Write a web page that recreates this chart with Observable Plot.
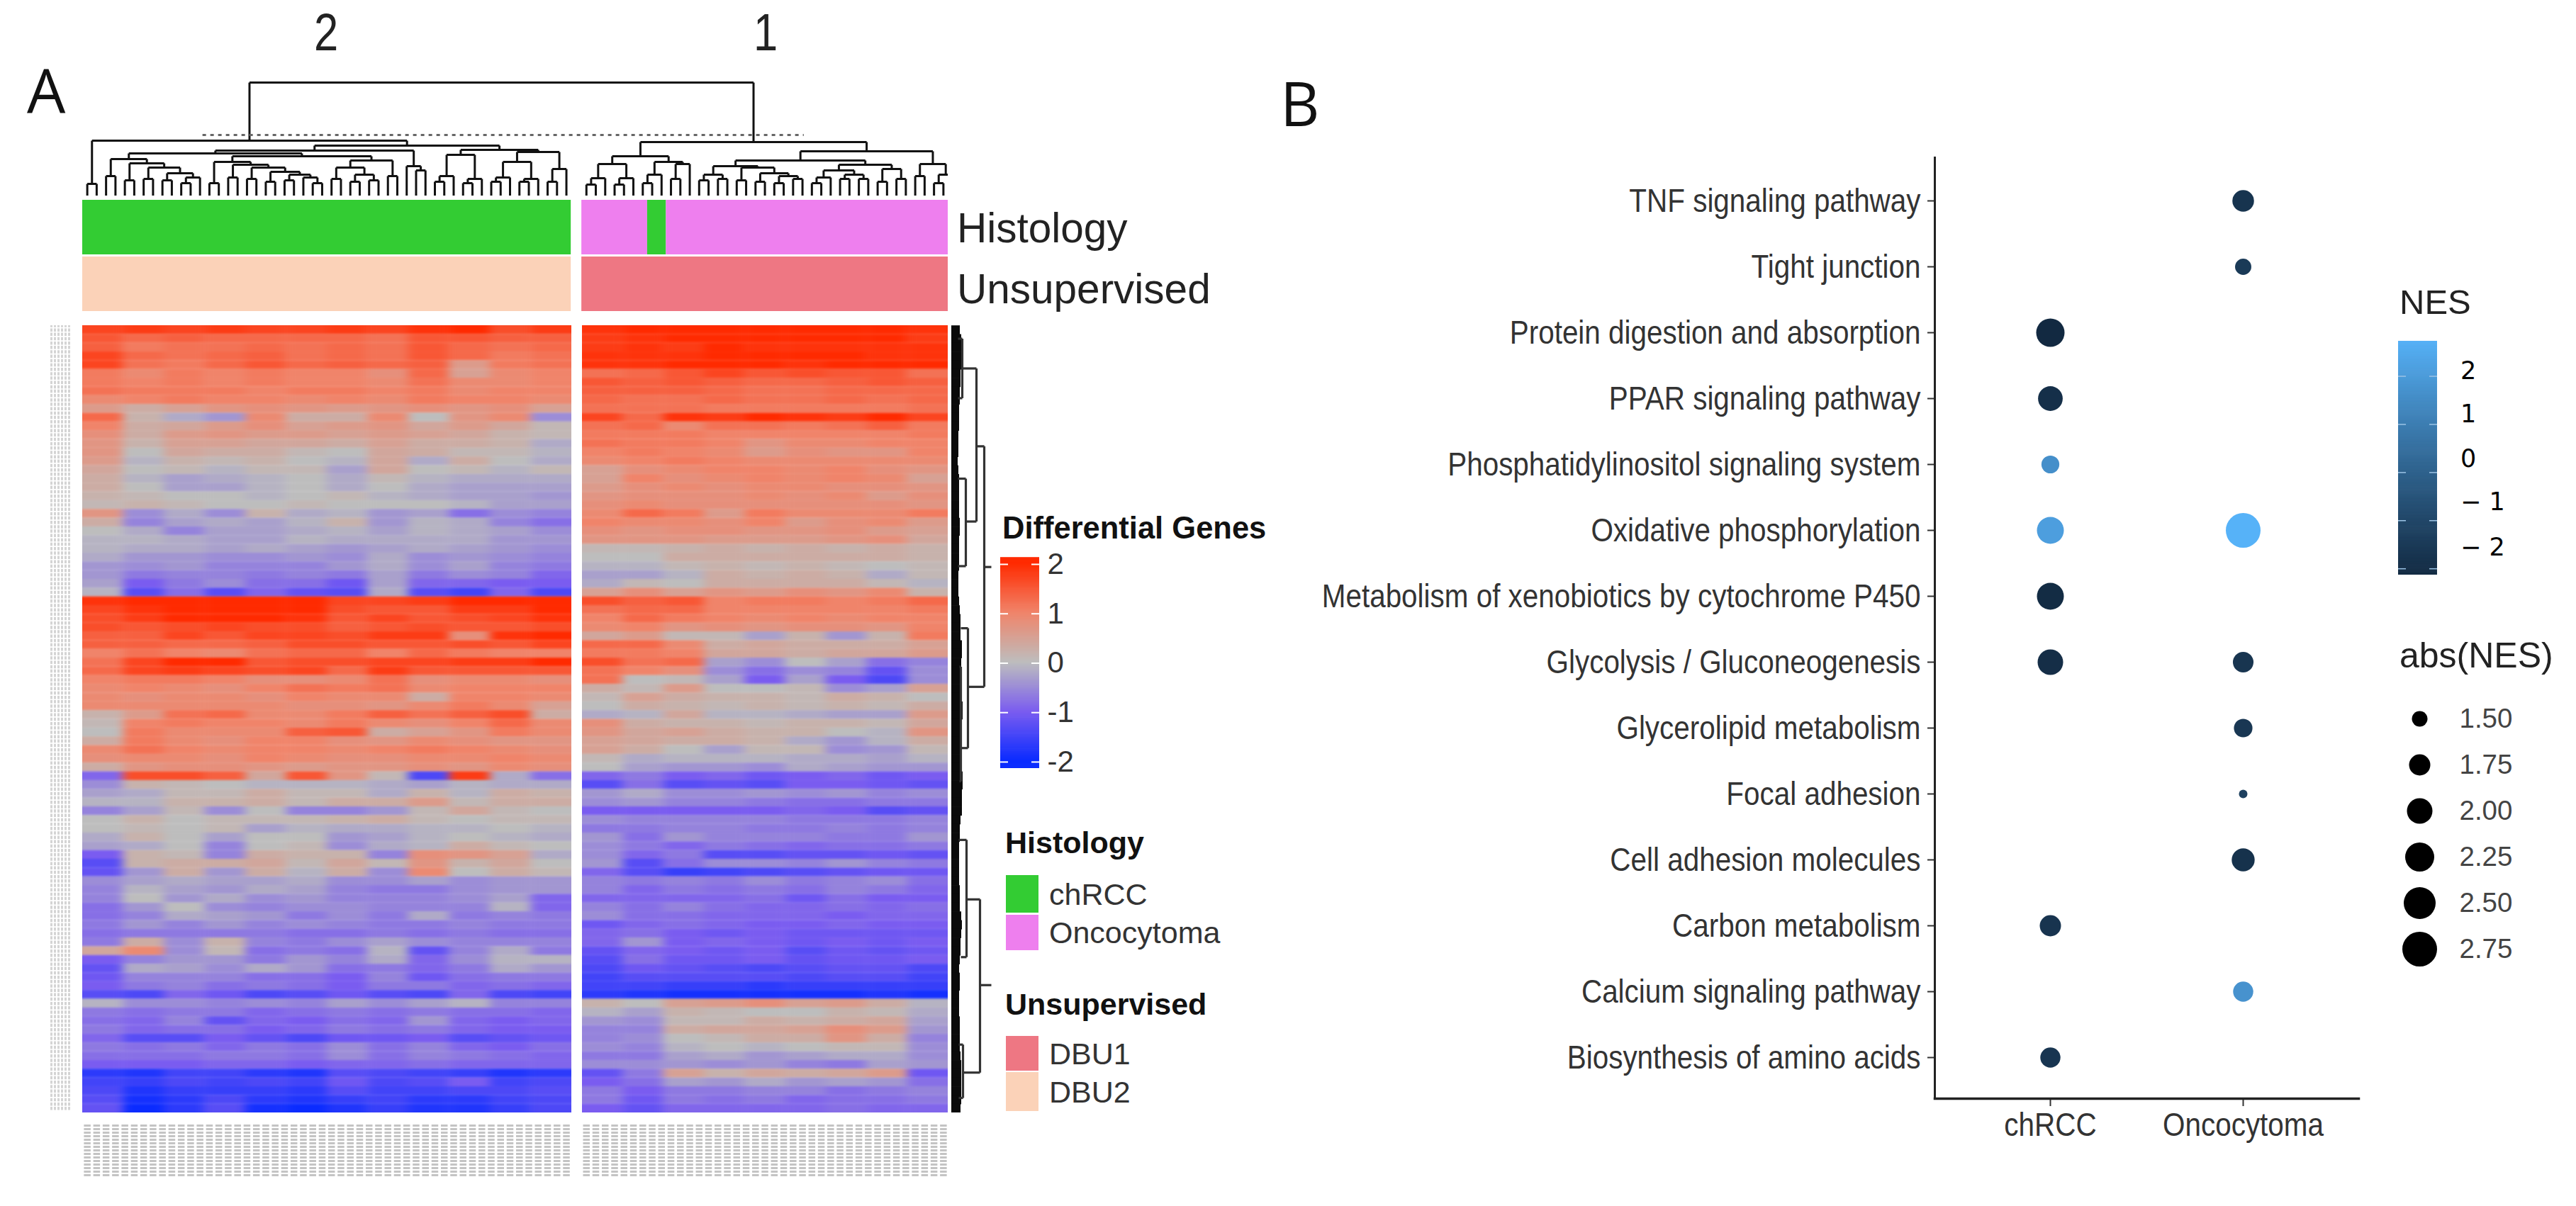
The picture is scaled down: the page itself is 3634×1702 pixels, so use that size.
<!DOCTYPE html>
<html><head><meta charset="utf-8">
<script src="https://cdn.jsdelivr.net/npm/d3@7"></script>
<script src="https://cdn.jsdelivr.net/npm/@observablehq/plot@0.6"></script>
<style>
html,body{margin:0;padding:0;background:#fff}
#page{position:relative;width:3634px;height:1702px;overflow:hidden;background:#fff}
#page>div{position:absolute}
</style></head><body>
<svg width="0" height="0" style="position:absolute"><defs>
<filter id="soft" filterUnits="userSpaceOnUse" x="-200" y="-200" width="1400" height="1600" color-interpolation-filters="sRGB"><feGaussianBlur stdDeviation="7 1.6"/></filter>
</defs></svg>
<div id="page"></div>
<script>
// ---------- Panel A: heatmap values, in tenths of a z-score (read by eye, per band of rows and columns)
const heatLeft = [
[17,18,17,18,17,17,18,17,19,20,16,18],[15,13,14,13,13,13,13,12,15,15,14,14],[14,11,12,12,13,12,13,12,15,13,12,13],
[17,13,12,13,14,12,13,12,15,13,11,12],[17,12,11,13,15,13,14,13,14,6,11,12],[11,9,11,10,11,10,10,8,13,5,9,10],
[11,10,11,10,11,10,10,9,12,9,9,10],[12,11,11,11,10,11,11,10,11,9,10,10],[9,10,11,10,10,9,10,9,11,10,10,9],
[6,3,5,7,8,7,6,7,8,7,8,5],[13,2,-2,-4,9,3,3,9,0,7,9,-5],[10,3,4,6,8,5,6,7,4,6,4,1],
[8,3,6,7,6,6,5,6,5,4,2,1],[7,2,5,5,4,4,3,5,3,3,2,-2],[7,0,4,3,3,1,0,4,3,1,1,-1],
[6,-1,2,1,2,0,-1,4,-2,3,0,-2],[4,0,1,-1,1,1,-3,4,0,1,-1,1],[3,-1,-3,-2,-1,0,-2,1,-1,-2,-2,-2],
[3,0,-3,-3,-1,0,-2,0,-2,-3,-3,-3],[2,1,0,0,-1,0,1,-1,-2,-3,-3,-4],[1,2,1,0,0,1,0,0,0,-1,-3,-3],
[7,-5,-2,-5,2,-2,-1,-4,-3,-8,-5,-6],[3,-6,-3,-2,-3,-1,2,-4,-1,-2,-6,-8],[0,-2,-6,-3,-3,-2,-1,-3,-1,-2,-3,-5],
[-1,-1,-2,-3,-3,-1,-2,-2,-2,-2,-4,-4],[-1,-2,-2,-3,-2,-3,-4,-3,-2,-3,-4,-5],[-2,-4,-4,-5,-5,-4,-5,-2,-5,-4,-5,-6],
[-4,-5,-4,-6,-6,-6,-4,-2,-5,-3,-6,-7],[-4,-7,-6,-6,-7,-6,-7,-3,-7,-5,-6,-9],[-3,-10,-7,-5,-8,-8,-11,-3,-9,-9,-10,-10],
[-1,-13,-8,-13,-9,-12,-13,-2,-13,-15,-9,-14],[19,20,20,20,20,20,17,17,18,20,20,20],[17,19,20,20,20,20,16,15,15,18,18,20],
[16,18,20,20,20,19,15,17,15,16,17,19],[16,15,16,17,16,16,14,15,16,15,15,16],[14,14,17,15,17,17,16,18,18,8,19,20],
[14,14,13,13,14,16,16,15,15,16,15,17],[10,12,10,9,12,13,13,10,13,11,10,10],[12,17,20,20,15,16,16,17,17,18,18,20],
[13,17,18,17,16,17,13,18,15,15,15,15],[10,11,11,10,8,8,9,12,8,9,9,8],[9,10,9,8,10,12,11,12,9,10,10,10],
[9,8,9,9,8,10,9,9,3,10,10,9],[9,9,9,9,9,8,8,7,9,11,9,5],[2,6,12,13,9,9,11,14,12,14,16,3],
[1,10,11,10,10,9,11,9,8,10,13,9],[0,11,9,9,9,14,15,3,5,7,11,9],[3,11,9,8,10,10,8,7,9,8,7,7],
[9,12,10,9,10,10,9,10,11,10,9,8],[8,9,9,8,10,9,8,8,9,9,10,9],[3,7,8,8,7,6,7,7,8,7,9,8],
[-9,16,16,14,4,15,7,1,-14,18,-2,-8],[-5,2,1,0,-1,-1,-1,-2,-3,-1,-2,-2],[-3,-2,1,1,3,1,1,-2,2,-1,3,2],
[-1,-1,2,2,3,1,3,3,6,1,3,3],[-6,-3,1,-5,0,-6,-6,-4,1,4,1,0],[0,2,0,1,1,1,2,3,1,0,1,1],
[0,1,0,1,-3,-1,-2,-2,-1,-1,0,-1],[-2,2,0,-3,0,0,-4,-3,-1,0,-1,-2],[-3,-2,0,-6,0,1,-5,-2,-1,3,1,0],
[-10,2,1,-6,3,2,2,-6,8,7,5,-2],[-13,2,3,3,4,1,4,1,7,2,4,0],[-12,-4,3,-4,3,-1,3,-5,9,0,3,1],
[-5,-3,-2,-3,-3,-2,-5,-5,-3,-5,-4,-4],[-6,-1,-3,-4,-2,-3,-6,-7,-7,-5,-4,-4],[-6,0,-4,-2,-5,-4,-6,-6,-6,-5,-3,-9],
[-8,-4,0,-5,-6,-5,-5,-6,-6,-6,-1,-9],[-8,-6,-2,-3,-4,-7,-5,-7,-2,-7,-6,-7],[-7,-4,-6,-4,-6,-5,-6,-7,-7,-6,-7,-7],
[-8,-7,-7,-7,-7,-8,-8,-7,-8,-7,-8,-8],[-7,3,-5,2,-6,-7,-5,-3,-5,-6,-6,-6],[4,9,-5,1,-8,-7,-8,-1,-12,-6,-2,-7],
[-10,-6,-4,-4,-7,-4,-6,-2,-9,-5,-1,-1],[-12,-2,-3,-5,-2,-4,-8,-7,-9,-7,-2,-4],[-11,-6,-6,-6,-8,-8,-10,-6,-11,-8,-7,-7],
[-10,-7,-6,-8,-7,-8,-10,-7,-7,-9,-8,-9],[-13,-14,-9,-11,-14,-13,-11,-13,-14,-9,-14,-15],[-1,-5,-5,-6,-5,-6,-3,-5,-3,-1,-6,-6],
[-7,-8,-7,-7,-9,-8,-7,-8,-7,-8,-8,-9],[-8,-9,-6,-12,-9,-10,-8,-9,-4,-9,-10,-9],[-7,-9,-8,-8,-10,-9,-7,-8,-7,-9,-10,-10],
[-9,-13,-13,-10,-12,-14,-11,-11,-10,-13,-12,-11],[-7,-8,-7,-9,-7,-8,-5,-8,-6,-9,-10,-8],[-8,-8,-8,-7,-7,-8,-5,-8,-6,-7,-8,-9],
[-10,-10,-10,-9,-9,-10,-9,-9,-8,-9,-9,-9],[-17,-18,-15,-15,-17,-18,-13,-14,-15,-16,-18,-17],[-15,-16,-14,-15,-14,-15,-11,-14,-13,-10,-15,-14],
[-14,-18,-16,-16,-16,-17,-13,-15,-15,-14,-14,-13],[-13,-19,-17,-14,-17,-18,-16,-15,-17,-17,-15,-14],[-12,-20,-17,-13,-19,-20,-18,-16,-18,-18,-16,-14]
];
const heatRight = [
[19,20,20,20,20,20,20,20,19],[18,19,20,20,20,20,20,20,18],[18,19,18,20,19,19,19,19,19],[19,19,19,20,20,20,20,19,19],
[19,19,20,20,20,19,20,20,20],[12,13,15,17,15,16,15,15,12],[15,14,15,14,13,13,14,15,14],[14,14,14,13,12,12,13,13,13],
[13,12,12,13,12,12,13,12,13],[12,12,12,11,11,11,11,11,12],[17,13,19,18,20,19,18,20,17],[12,13,9,12,12,11,12,14,11],
[11,11,11,10,10,10,10,10,11],[12,11,11,10,7,9,9,10,10],[10,11,10,9,6,8,7,7,10],[9,10,11,10,9,9,9,9,9],
[5,8,9,10,10,9,10,8,7],[5,10,8,9,10,9,10,9,5],[6,8,9,8,9,9,8,8,7],[7,8,8,8,9,8,9,6,8],
[8,9,8,8,8,8,8,8,7],[9,13,11,6,11,9,9,9,11],[10,9,9,8,10,6,8,9,6],[8,7,8,8,7,7,8,6,5],
[7,7,7,6,6,6,7,8,4],[1,1,2,3,2,3,2,3,2],[0,0,3,3,3,3,3,3,2],[-1,-1,1,2,1,2,1,0,1],
[-3,-3,-1,3,2,3,2,-2,1],[-2,1,0,3,3,3,3,1,-1],[5,8,5,7,6,8,7,9,2],[16,14,15,10,11,11,10,11,13],
[12,13,13,10,10,10,10,10,11],[10,13,11,10,9,10,9,10,10],[9,10,7,8,7,8,8,7,10],[4,6,1,1,-3,2,-4,2,11],
[13,13,9,3,4,3,3,3,5],[11,11,10,4,4,3,4,4,6],[16,12,13,-3,-5,0,-3,-8,-6],[12,10,8,-5,-8,-5,-6,-12,-5],
[12,0,1,-3,-10,-3,-10,-14,-5],[3,1,6,0,0,1,-5,-3,5],[1,5,3,2,2,1,3,2,0],[0,3,2,1,2,1,2,1,3],
[-2,-1,4,-1,-1,-2,-3,-3,6],[8,3,2,2,1,2,2,1,4],[7,4,5,3,2,2,0,-1,7],[5,4,3,3,2,-2,-4,-1,3],
[5,3,0,-3,1,1,-5,-4,1],[1,-2,-1,-1,-1,-2,-2,-3,-1],[0,-3,-4,-4,-5,-2,-3,-4,-4],[-9,-7,-10,-9,-11,-10,-9,-11,-10],
[-13,-8,-13,-12,-13,-10,-10,-11,-12],[-4,-2,-5,-5,-4,-5,-4,-6,-5],[-5,-4,-6,-6,-7,-8,-8,-7,-7],[-10,-10,-10,-10,-10,-9,-10,-13,-12],
[-5,-6,-6,-6,-6,-7,-7,-7,-6],[-7,-7,-6,-6,-7,-7,-6,-7,-6],[-4,-8,-4,-6,-6,-6,-7,-7,-4],[-5,-7,-9,-7,-8,-9,-8,-8,-7],
[-5,-9,-7,-13,-13,-12,-12,-11,-12],[-4,-13,-8,-5,-5,-6,-4,-6,-7],[-9,-13,-16,-15,-14,-13,-12,-11,-11],[-6,-7,-6,-7,-5,-7,-6,-5,-8],
[-6,-9,-7,-8,-7,-8,-6,-7,-9],[-9,-9,-9,-9,-8,-11,-8,-10,-10],[-6,-8,-6,-8,-9,-9,-8,-9,-8],[-5,-8,-8,-9,-9,-9,-10,-9,-9],
[-11,-9,-8,-9,-10,-10,-9,-10,-10],[-9,-8,-10,-11,-10,-11,-11,-11,-11],[-9,-4,-10,-9,-10,-11,-10,-11,-10],[-12,-9,-10,-11,-10,-13,-11,-12,-11],
[-13,-8,-11,-11,-10,-12,-11,-11,-10],[-14,-11,-12,-13,-14,-13,-12,-12,-14],[-15,-13,-13,-13,-13,-14,-13,-13,-15],[-15,-15,-16,-16,-17,-16,-16,-16,-16],
[-17,-18,-19,-19,-19,-19,-19,-18,-19],[2,0,5,6,8,5,6,3,-1],[-1,-3,2,1,0,0,2,1,-2],[-4,-5,1,1,3,2,3,4,-3],
[-6,-6,3,4,4,5,8,6,-4],[-6,-5,0,1,3,3,7,3,-6],[-5,-6,-1,0,-1,0,1,1,-5],[-7,-7,-3,-2,-4,-3,-2,-2,-5],
[-5,-5,-4,-5,-4,-6,-7,-3,-4],[-12,-7,5,2,4,3,4,6,-11],[-10,-8,-3,-4,-2,-4,-3,-4,-8],[-7,-10,-7,-7,-6,-6,-8,-7,-6],
[-7,-11,-7,-8,-7,-9,-8,-8,-7],[-10,-12,-9,-9,-9,-9,-8,-9,-9]
];
const heatStops = [-2,-1,0,1,2];
const heatColors = ["#0a2bff","#7a5cf0","#bdbdbd","#f0846a","#ff2a00"];

// sample dendrogram: [height, left, right], 0 = a leaf
const treeLeft = [78,[17,0,0],[71,
  [64,
    [60,
      [52,[28,0,0],[46,[22,0,0],[40,[24,0,0],[32,[22,0,0],[26,[18,0,0],0]]]]],
      [56,
        [48,[18,0,0],[44,[26,0,0],[40,[24,0,0],[34,[20,0,0],[30,[22,0,0],[26,0,[18,0,0]]]]]]],
        [50,[40,[24,0,0],[30,[20,0,0],[22,0,0]]],[28,0,0]]]],
    [42,0,[36,0,0]]],
  [65,
    [58,[28,[20,0,0],0],[24,[18,0,0],0]],
    [62,[48,[26,[20,0,0],0],[24,[20,0,0],0]],[38,[20,0,0],0]]]]];
const treeRight = [76,
  [56,[45,[25,[16,0,0],0],[25,[16,0,0],0]],[48,[30,[18,0,0],0],[45,[24,0,0],0]]],
  [63,
    [50,
      [42,[30,[22,0,0],[24,0,0]],[40,[22,0,0],[32,[20,0,0],[28,[18,0,0],[24,0,0]]]]],
      [44,
        [36,[26,[18,0,0],0],[30,[24,0,0],[24,0,0]]],
        [38,[20,0,0],[24,0,0]]]],
    [45,[28,0,0],[30,[18,0,0],0]]]];
const rootHeight = 160, cutHeight = 86, cutFrom = 12.8, cutTo = 76.8;
const leftColumns = 52, rightColumns = 39, panelGap = 1.13;

// column annotations: [category, number of columns]
const histologyLeft = [["chRCC",52]];
const histologyRight = [["Oncocytoma",7],["chRCC",2],["Oncocytoma",30]];
const unsupervisedLeft = [["DBU2",52]];
const unsupervisedRight = [["DBU1",39]];
const annotationNames = ["chRCC","Oncocytoma","DBU1","DBU2"];
const annotationColors = ["#33cc33","#ee7fee","#ee7783","#fbd2b8"];

// gene dendrogram: [height, row from, row to, height of child at from, height of child at to]
const geneNodes = [
  [46,13.8,41.3,35,23],[35,4.9,22.4,15,20],[15,1.5,8.3,9,9],[20,17.5,27.5,9,9],
  [23,34.6,48.3,13,13],[13,39,52.1,11,11],[40,65.6,85.4,21,16],[21,58.8,72.2,10,13],[16,82.2,88.3,10,10]
];
const geneStems = [[46,56,27.6],[40,56,75.4]];
const geneTipDepth = [10,12,12,12,13,11,11,10,10,9,9,9,8,8,8,7,8,9,9,9,9,9,10,10,9,9,9,9,8,8,8,9,10,11,11,11,13,13,12,11,12,12,13,14,14,13,13,13,13,13,13,14,14,13,13,13,11,10,10,9,9,9,9,9,10,10,10,12,13,12,11,11,10,9,10,10,9,9,9,10,10,10,10,11,12,12,12,12,12,11];

// ---------- Panel B
const terms = ["TNF signaling pathway","Tight junction","Protein digestion and absorption","PPAR signaling pathway","Phosphatidylinositol signaling system","Oxidative phosphorylation","Metabolism of xenobiotics by cytochrome P450","Glycolysis / Gluconeogenesis","Glycerolipid metabolism","Focal adhesion","Cell adhesion molecules","Carbon metabolism","Calcium signaling pathway","Biosynthesis of amino acids"];
const groups = ["chRCC","Oncocytoma"];
const nesChRCC = [null,null,-2.2,-1.95,1.6,2.1,-2.1,-2.0,null,null,null,-1.75,null,-1.7];
const nesOnco  = [-1.77,-1.53,null,null,null,2.75,null,-1.72,-1.63,-1.28,-1.85,null,1.7,null];
const sizeBreaks = [1.5,1.75,2,2.25,2.5,2.75];
const sizeRadii  = [11,15,18,20.5,22.5,24.5];
const nesTicks = [2,1,0,-1,-2];
const heatTicks = [2,1,0,-1,-2];

// ---------- helpers
const page = document.getElementById("page");
const SANS = "'Liberation Sans',Arial,sans-serif";
function place(node,x,y){const d=document.createElement("div");d.style.left=x+"px";d.style.top=y+"px";d.appendChild(node);page.appendChild(d);return node;}
function label(t,x,y,o={}){const d=document.createElement("div");d.textContent=t;
  Object.assign(d.style,{left:x+"px",top:y+"px",transform:`translate(${o.center?"-50%":"0"},-50%) scaleX(${o.sx||1})`,transformOrigin:o.center?"50% 50%":"0 50%",font:`${o.weight||"normal"} ${o.size||43}px ${o.font||SANS}`,color:o.color||"#222",whiteSpace:"pre",lineHeight:"1"});
  page.appendChild(d);}
function swatch(color,x,y,w,h){const d=document.createElement("div");Object.assign(d.style,{left:x+"px",top:y+"px",width:w+"px",height:h+"px",background:color});page.appendChild(d);}
function condense(svg,f){svg.querySelectorAll("text").forEach(t=>{const n=t.getComputedTextLength();t.setAttribute("textLength",n*f);t.setAttribute("lengthAdjust","spacingAndGlyphs");});}
const base = {margin:0,style:{background:"none",maxWidth:"none"}};

// ---------- column dendrogram
const segs = [];
function walk(n,s){ if(n===0){const x=s.next+.5;s.next++;return {x,h:0};}
  const a=walk(n[1],s),b=walk(n[2],s),h=n[0];
  segs.push({x1:a.x,y1:a.h,x2:a.x,y2:h},{x1:a.x,y1:h,x2:b.x,y2:h},{x1:b.x,y1:h,x2:b.x,y2:b.h});
  return {x:(a.x+b.x)/2,h};}
const rl = walk(treeLeft,{next:0}), rr = walk(treeRight,{next:leftColumns+panelGap});
segs.push({x1:rl.x,y1:rl.h,x2:rl.x,y2:rootHeight},{x1:rl.x,y1:rootHeight,x2:rr.x,y2:rootHeight},{x1:rr.x,y1:rr.h,x2:rr.x,y2:rootHeight});
const colSpan = leftColumns+panelGap+rightColumns;
place(Plot.plot({...base,width:1221,height:176,
  x:{domain:[0,colSpan],range:[0,1221],axis:null},y:{domain:[0,176],range:[176,0],axis:null},
  marks:[
    Plot.link(segs,{x1:"x1",y1:"y1",x2:"x2",y2:"y2",stroke:"#111",strokeWidth:3}),
    Plot.ruleY([cutHeight],{x1:cutFrom,x2:cutTo,stroke:"#666",strokeWidth:3,strokeDasharray:"5 6"})
  ]}),116,100);

// ---------- annotation bars
function runs(list,start,track){let c=start;return list.map(([k,n])=>{const r={k,x1:c,x2:c+n,track};c+=n;return r;});}
const annotation = [
  ...runs(histologyLeft,0,"Histology"),...runs(histologyRight,leftColumns+panelGap,"Histology"),
  ...runs(unsupervisedLeft,0,"Unsupervised"),...runs(unsupervisedRight,leftColumns+panelGap,"Unsupervised")];
place(Plot.plot({...base,width:1221,height:165,
  x:{domain:[0,colSpan],range:[0,1221],axis:null},
  y:{domain:["Histology","Unsupervised"],range:[0,165],padding:0.04,axis:null},
  color:{domain:annotationNames,range:annotationColors},
  marks:[Plot.barX(annotation,{x1:"x1",x2:"x2",y:"track",fill:"k"})]}),116,278);

// ---------- heatmap
function heatCells(rows){const nc=rows[0].length,nr=rows.length,out=[];
  rows.forEach((row,r)=>row.forEach((v,c)=>out.push({
    x1:c===0?-2:c, x2:c===nc-1?nc+2:c+1, y1:r===0?-3:r, y2:r===nr-1?nr+3:r+1, v:v/10})));return out;}
function heatPanel(rows,w,x){
  const p=Plot.plot({...base,width:w,height:1111,
    x:{domain:[0,rows[0].length],range:[0,w],axis:null},y:{domain:[0,rows.length],range:[0,1111],axis:null},
    color:{type:"linear",domain:heatStops,range:heatColors,clamp:true},
    marks:[Plot.rect(heatCells(rows),{x1:"x1",x2:"x2",y1:"y1",y2:"y2",fill:"v"})]});
  p.querySelector('g[aria-label="rect"]').setAttribute("filter","url(#soft)");
  return place(p,x,459);}
heatPanel(heatLeft,690,116);
heatPanel(heatRight,516,821);

// illegible sample and gene labels: shown as the grey texture they make in the source
const sampleColumns = [...d3.range(leftColumns).map(i=>i+.5),...d3.range(rightColumns).map(i=>leftColumns+panelGap+i+.5)];
place(Plot.plot({...base,width:1221,height:75,x:{domain:[0,colSpan],range:[0,1221],axis:null},y:{domain:[0,1],range:[0,75],axis:null},
  marks:[Plot.ruleX(sampleColumns,{y1:0,y2:1,stroke:"#c4c4c4",strokeWidth:9.5,strokeDasharray:"3 2"})]}),116,1587);
place(Plot.plot({...base,width:30,height:1111,x:{domain:[0,1],range:[0,30],axis:null},y:{domain:[0,90],range:[0,1111],axis:null},
  marks:[Plot.ruleY(d3.range(0,90,.5),{x1:0,x2:1,stroke:"#d4d4d4",strokeWidth:4.5,strokeDasharray:"3 2"})]}),71,459);

// ---------- gene dendrogram
const geneSegs = geneNodes.flatMap(([h,a,b,ha,hb])=>[{x1:h,x2:h,y1:a,y2:b},{x1:ha,x2:h,y1:a,y2:a},{x1:hb,x2:h,y1:b,y2:b}]);
const geneStemSegs = geneStems.map(([h1,h2,r])=>({x1:h1,x2:h2,y1:r,y2:r}));
place(Plot.plot({...base,width:60,height:1111,
  x:{domain:[0,60],range:[0,60],axis:null},y:{domain:[0,90],range:[0,1111],axis:null},
  marks:[
    Plot.ruleY(geneTipDepth,{y:(d,i)=>i+.5,x1:0,x2:d=>d+2,stroke:"#0a0a0a",strokeWidth:13}),
    Plot.link([...geneSegs,...geneStemSegs],{x1:"x1",x2:"x2",y1:"y1",y2:"y2",stroke:"#333",strokeWidth:3.2})
  ]}),1342,459);

// ---------- panel A labels and legends
label("A",38,127,{size:86,font:"'Open Sans',sans-serif",color:"#111"});
label("B",1806,145,{size:86,font:"'Open Sans',sans-serif",color:"#111"});
label("2",460,45,{size:75,center:true,color:"#222",sx:.82});
label("1",1080,45,{size:75,center:true,color:"#222",sx:.82});
label("Histology",1350,322,{size:58.5});
label("Unsupervised",1350,408,{size:58.5});
label("Differential Genes",1414,746,{size:43.5,weight:"bold",color:"#111"});
const ramp = d3.range(-2.13,2.1,.03);
place(Plot.plot({...base,style:{...base.style,overflow:"visible"},width:125,height:295,marginRight:70,
  x:{domain:[0,1],range:[0,55],axis:null},y:{domain:[2.1,-2.13],range:[0,295],axis:null},
  color:{type:"linear",domain:heatStops,range:heatColors,clamp:true},
  marks:[
    Plot.rect(ramp,{x1:0,x2:1,y1:d=>d,y2:d=>d+.04,fill:d=>d}),
    Plot.ruleY(heatTicks,{x1:0,x2:.2,stroke:"#fff",strokeWidth:2}),
    Plot.ruleY(heatTicks,{x1:.8,x2:1,stroke:"#fff",strokeWidth:2}),
    Plot.text(heatTicks,{x:1,dx:11,y:d=>d,text:d=>String(d),textAnchor:"start",fontSize:42,fill:"#333",fontFamily:SANS})
  ]}),1411,789);
label("Histology",1418,1189,{size:43,weight:"bold",color:"#111"});
annotationNames.slice(0,2).forEach((n,i)=>{swatch(annotationColors[i],1419,[1235,1291][i],46,[53,50][i]);label(n,1480,[1262,1316][i],{size:43,color:"#333"});});
label("Unsupervised",1418,1417,{size:43,weight:"bold",color:"#111"});
annotationNames.slice(2).forEach((n,i)=>{swatch(annotationColors[i+2],1419,[1462,1513][i],46,[49,55][i]);label(n,1480,[1487,1541][i],{size:43,color:"#333"});});

// ---------- panel B dot plot
const dotRows = terms.flatMap((t,i)=>[
  ...(nesChRCC[i]==null?[]:[{term:t,group:groups[0],nes:nesChRCC[i]}]),
  ...(nesOnco[i]==null?[]:[{term:t,group:groups[1],nes:nesOnco[i]}])]);
const rScale = {type:"linear",domain:[1.28,...sizeBreaks],range:[6,...sizeRadii]};
const dotW = 1600, dotTop = 200, dotLeft = 1740;
const dotPlot = place(Plot.plot({...base,width:dotW,height:1450,
  marginLeft:2729-dotLeft,marginRight:dotLeft+dotW-3327,marginTop:222-dotTop,marginBottom:dotTop+1450-1550,
  x:{type:"point",domain:groups,range:[2892-dotLeft,3164-dotLeft],padding:0,label:null},
  y:{type:"point",domain:terms,range:[280-dotTop,1494-dotTop],padding:0,label:null},
  r:rScale,
  color:{type:"linear",domain:[-2.13,2.73],range:["#132B43","#56B1F7"],interpolate:"lab"},
  marks:[
    Plot.axisY({anchor:"left",tickSize:10,tickPadding:10,fontSize:47,fontFamily:SANS,color:"#333",label:null,lineWidth:Infinity,textOverflow:null,strokeWidth:2}),
    Plot.axisX({anchor:"bottom",tickSize:11,tickPadding:8,fontSize:47,fontFamily:SANS,color:"#333",label:null,lineWidth:Infinity,textOverflow:null,strokeWidth:2}),
    Plot.frame({anchor:"left",stroke:"#222",strokeWidth:3}),
    Plot.frame({anchor:"bottom",stroke:"#222",strokeWidth:3.5}),
    Plot.dot(dotRows,{x:"group",y:"term",r:d=>Math.abs(d.nes),fill:"nes"})
  ]}),dotLeft,dotTop);
condense(dotPlot,.86);

// NES colour bar
label("NES",3385,426,{size:49,color:"#222"});
const nesRamp = d3.range(-2.13,2.73,.03);
place(Plot.plot({...base,width:55,height:330,
  x:{domain:[0,1],range:[0,55],axis:null},y:{domain:[2.73,-2.13],range:[0,330],axis:null},
  color:{type:"linear",domain:[-2.13,2.73],range:["#132B43","#56B1F7"],interpolate:"lab"},
  marks:[
    Plot.rect(nesRamp,{x1:0,x2:1,y1:d=>d,y2:d=>d+.04,fill:d=>d}),
    Plot.ruleY(nesTicks,{x1:0,x2:.2,stroke:"#9cc3e6",strokeWidth:1.5}),
    Plot.ruleY(nesTicks,{x1:.8,x2:1,stroke:"#9cc3e6",strokeWidth:1.5})
  ]}),3383,481);
const DEJA = "'DejaVu Sans',sans-serif";
["2","1","0","\u2212 1","\u2212 2"].forEach((t,i)=>label(t,3471,[523,584,647,708,772][i],{size:35,font:DEJA,color:"#000"}));

// size legend
label("abs(NES)",3385,925,{size:50,color:"#222"});
const sizeLabel = d => d.toFixed(2);
place(Plot.plot({...base,width:200,height:400,
  x:{domain:[0,1],range:[0,200],axis:null},
  y:{type:"point",domain:sizeBreaks.map(sizeLabel),range:[32,361],padding:0,axis:null},
  r:rScale,
  marks:[
    Plot.dot(sizeBreaks,{x:.265,y:sizeLabel,r:d=>d,fill:"#000"}),
    Plot.text(sizeBreaks,{x:.545,y:sizeLabel,text:sizeLabel,textAnchor:"start",fontSize:38.5,fill:"#444",fontFamily:SANS})
  ]}),3360,980);
</script>
</body></html>
